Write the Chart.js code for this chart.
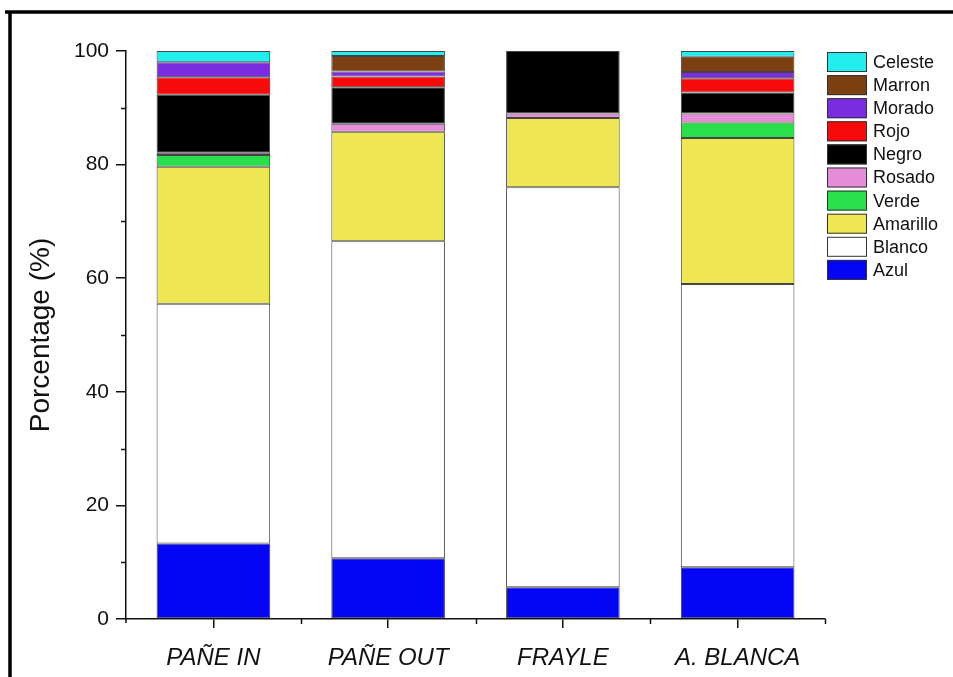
<!DOCTYPE html>
<html>
<head>
<meta charset="utf-8">
<script src="https://cdn.jsdelivr.net/npm/chart.js@4.4.1/dist/chart.umd.min.js"></script>
<style>
  html, body { margin: 0; padding: 0; background: #fff; }
  #wrap { position: relative; width: 953px; height: 677px; }
</style>
</head>
<body>
<div id="wrap"><canvas id="c" width="953" height="677"></canvas></div>
<script>
const categories = ['PAÑE IN', 'PAÑE OUT', 'FRAYLE', 'A. BLANCA'];
const seriesNames = ['Azul', 'Blanco', 'Amarillo', 'Verde', 'Rosado', 'Negro', 'Rojo', 'Morado', 'Marron', 'Celeste'];
const azul     = [13.3, 10.7, 5.6, 9.1];
const blanco   = [42.2, 55.8, 70.4, 49.9];
const amarillo = [24.1, 19.3, 12.2, 25.7];
const verde    = [2.1, 0, 0, 2.7];
const rosado   = [0.4, 1.4, 0.8, 1.6];
const negro    = [10.2, 6.4, 11.0, 3.7];
const rojo     = [3.1, 1.9, 0, 2.5];
const morado   = [2.6, 0.9, 0, 1.1];
const marron   = [0, 2.7, 0, 2.7];
const celeste  = [2.0, 0.9, 0, 1.0];
const yTickValues = [0, 20, 40, 60, 80, 100];
const yMinorTicks = [10, 30, 50, 70, 90];

const seriesValues = [azul, blanco, amarillo, verde, rosado, negro, rojo, morado, marron, celeste];
const seriesColors = ['#0505f5', '#ffffff', '#efe654', '#2ae04a', '#e68cd8', '#000000', '#f80a0a', '#7b2be0', '#7b3f12', '#22eeee'];

const FONT = '"Liberation Sans", Arial, sans-serif';

const datasets = seriesNames.map((name, i) => ({
  label: name,
  data: seriesValues[i],
  backgroundColor: seriesColors[i],
  borderColor: '#444',
  borderWidth: ctx => (ctx.raw === 0 ? 0 : 1),
  borderSkipped: false,
  categoryPercentage: 1.0,
  barPercentage: 0.65
}));

const decorPlugin = {
  id: 'decor',
  beforeDraw(chart) {
    const ctx = chart.ctx;
    ctx.save();
    ctx.fillStyle = '#fff';
    ctx.fillRect(0, 0, chart.width, chart.height);
    ctx.restore();
  },
  afterDraw(chart) {
    const ctx = chart.ctx;
    const x = chart.scales.x, y = chart.scales.y;
    ctx.save();
    // frame
    ctx.strokeStyle = '#000';
    ctx.lineWidth = 3.5;
    ctx.beginPath();
    ctx.moveTo(5, 12);
    ctx.lineTo(953, 12);
    ctx.moveTo(10, 11);
    ctx.lineTo(10, 677);
    ctx.stroke();
    // minor ticks
    ctx.lineWidth = 1.5;
    ctx.strokeStyle = '#111';
    ctx.beginPath();
    yMinorTicks.forEach(v => {
      const py = Math.round(y.getPixelForValue(v)) + 0.5;
      ctx.moveTo(y.right - 5, py);
      ctx.lineTo(y.right, py);
    });
    const centers = categories.map((c, i) => x.getPixelForValue(i));
    const step = centers.length > 1 ? centers[1] - centers[0] : x.width;
    const bounds = [];
    for (let i = 1; i < centers.length; i++) bounds.push((centers[i - 1] + centers[i]) / 2);
    bounds.push(centers[centers.length - 1] + step / 2);
    bounds.forEach(px => {
      ctx.moveTo(Math.round(px) + 0.5, x.top);
      ctx.lineTo(Math.round(px) + 0.5, x.top + 5);
    });
    // y axis slight extension below x axis
    ctx.moveTo(y.right, x.top);
    ctx.lineTo(y.right, x.top + 4);
    ctx.stroke();
    // legend (reverse order, Celeste on top)
    const lx = 827, ly0 = 52, pitch = 23.1, bw = 40, bh = 20;
    ctx.font = '18px ' + FONT;
    ctx.textBaseline = 'middle';
    ctx.textAlign = 'left';
    const order = chart.data.datasets.map((d, i) => i).reverse();
    order.forEach((di, row) => {
      const ds = chart.data.datasets[di];
      const top = ly0 + row * pitch;
      ctx.fillStyle = ds.backgroundColor;
      ctx.fillRect(lx, top, bw, bh);
      ctx.lineWidth = 1;
      ctx.strokeStyle = '#333';
      ctx.strokeRect(lx + 0.5, top + 0.5, bw - 1, bh - 1);
      ctx.fillStyle = '#111';
      ctx.fillText(ds.label, lx + bw + 6, top + bh / 2 + 1);
    });
    ctx.restore();
  }
};

new Chart(document.getElementById('c'), {
  type: 'bar',
  data: { labels: categories, datasets },
  options: {
    responsive: false,
    devicePixelRatio: 1,
    animation: false,
    layout: { padding: { top: 51, right: 128, bottom: 0, left: 0 } },
    plugins: { legend: { display: false }, tooltip: { enabled: false } },
    scales: {
      x: {
        stacked: true,
        offset: true,
        afterFit: s => { s.height = 58; },
        grid: { display: true, offset: false, drawOnChartArea: false, drawTicks: true, tickLength: 9, color: '#111', lineWidth: 1.5 },
        border: { display: true, color: '#111', width: 1.5 },
        ticks: { font: { family: FONT, size: 24, style: 'italic' }, color: '#111', padding: 16, maxRotation: 0, autoSkip: false }
      },
      y: {
        stacked: true,
        min: 0,
        max: 100,
        afterFit: s => { s.width = 126; },
        afterBuildTicks: s => { s.ticks = yTickValues.map(v => ({ value: v })); },
        grid: { display: true, drawOnChartArea: false, drawTicks: true, tickLength: 10, color: '#111', lineWidth: 1.5 },
        border: { display: true, color: '#111', width: 1.5 },
        ticks: { font: { family: FONT, size: 21 }, color: '#111', padding: 7 },
        title: { display: true, text: 'Porcentage (%)', font: { family: FONT, size: 28 }, color: '#111', padding: { top: 24, bottom: 0 } }
      }
    }
  },
  plugins: [decorPlugin]
});
</script>
</body>
</html>
